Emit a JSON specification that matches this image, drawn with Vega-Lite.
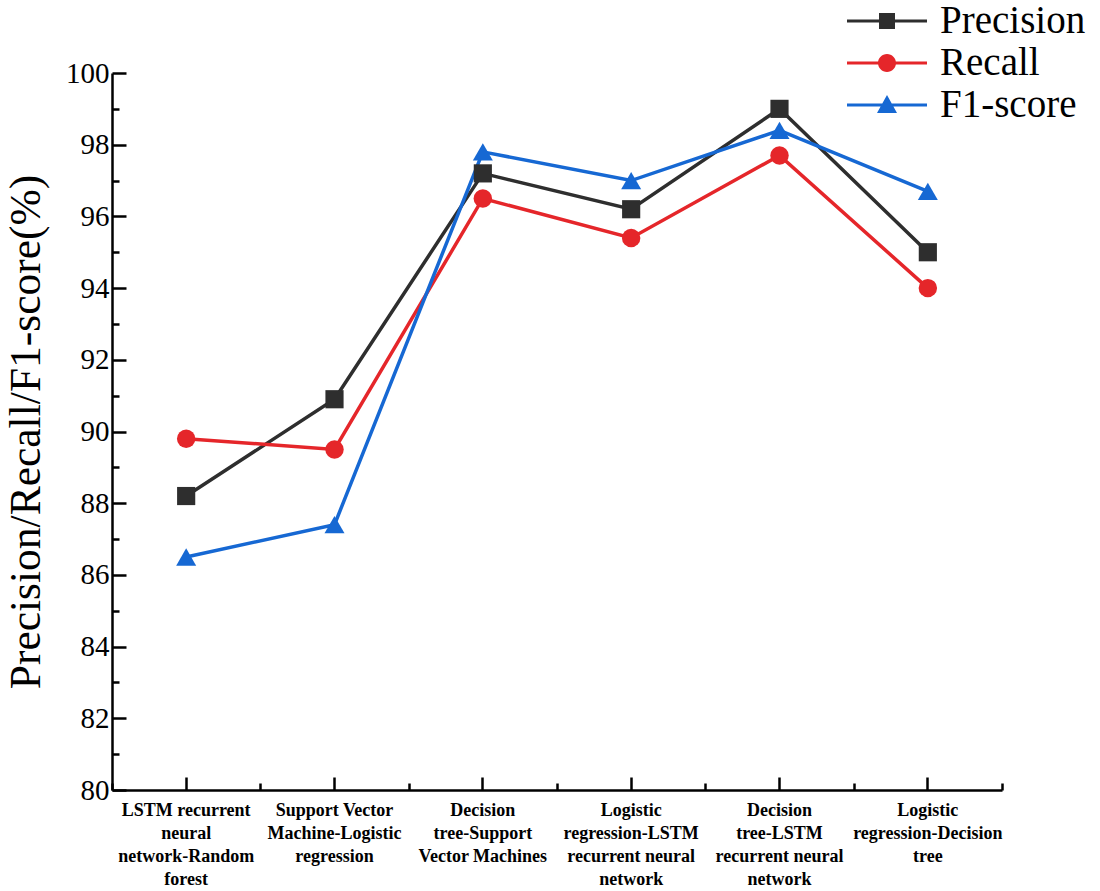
{
  "$schema": "https://vega.github.io/schema/vega-lite/v6.json",
  "width": 890,
  "height": 717,
  "autosize": "none",
  "padding": {"left": 112, "top": 73, "right": 98, "bottom": 101},
  "background": "white",
  "config": {
    "view": {"stroke": null},
    "axis": {"domainColor": "black", "domainWidth": 2.5, "tickColor": "black", "tickWidth": 2.5, "grid": false, "labelColor": "black", "titleColor": "black"}
  },
  "data": {
    "values": [
      {"model": "LSTM recurrent neural network-Random forest", "metric": "Precision", "value": 88.2},
      {"model": "Support Vector Machine-Logistic regression", "metric": "Precision", "value": 90.9},
      {"model": "Decision tree-Support Vector Machines", "metric": "Precision", "value": 97.2},
      {"model": "Logistic regression-LSTM recurrent neural network", "metric": "Precision", "value": 96.2},
      {"model": "Decision tree-LSTM recurrent neural network", "metric": "Precision", "value": 99.0},
      {"model": "Logistic regression-Decision tree", "metric": "Precision", "value": 95.0},
      {"model": "LSTM recurrent neural network-Random forest", "metric": "Recall", "value": 89.8},
      {"model": "Support Vector Machine-Logistic regression", "metric": "Recall", "value": 89.5},
      {"model": "Decision tree-Support Vector Machines", "metric": "Recall", "value": 96.5},
      {"model": "Logistic regression-LSTM recurrent neural network", "metric": "Recall", "value": 95.4},
      {"model": "Decision tree-LSTM recurrent neural network", "metric": "Recall", "value": 97.7},
      {"model": "Logistic regression-Decision tree", "metric": "Recall", "value": 94.0},
      {"model": "LSTM recurrent neural network-Random forest", "metric": "F1-score", "value": 86.5},
      {"model": "Support Vector Machine-Logistic regression", "metric": "F1-score", "value": 87.4},
      {"model": "Decision tree-Support Vector Machines", "metric": "F1-score", "value": 97.8},
      {"model": "Logistic regression-LSTM recurrent neural network", "metric": "F1-score", "value": 97.0},
      {"model": "Decision tree-LSTM recurrent neural network", "metric": "F1-score", "value": 98.4},
      {"model": "Logistic regression-Decision tree", "metric": "F1-score", "value": 96.7}
    ]
  },
  "resolve": {"axis": {"x": "independent", "y": "independent"}},
  "layer": [
    {
      "mark": {"type": "line", "strokeWidth": 3.5},
      "encoding": {
        "x": {
          "field": "model", "type": "nominal", "sort": null,
          "scale": {"type": "band", "paddingInner": 0, "paddingOuter": 0},
          "axis": {
            "orient": "bottom", "title": null, "labelAngle": 0, "tickSize": -13, "labelPadding": 24,
            "labelFont": "Liberation Serif", "labelFontWeight": "bold", "labelFontSize": 18, "labelLineHeight": 23,
            "labelBaseline": "top",
            "labelExpr": "{'LSTM recurrent neural network-Random forest': ['LSTM recurrent', 'neural', 'network-Random', 'forest'], 'Support Vector Machine-Logistic regression': ['Support Vector', 'Machine-Logistic', 'regression'], 'Decision tree-Support Vector Machines': ['Decision', 'tree-Support', 'Vector Machines'], 'Logistic regression-LSTM recurrent neural network': ['Logistic', 'regression-LSTM', 'recurrent neural', 'network'], 'Decision tree-LSTM recurrent neural network': ['Decision', 'tree-LSTM', 'recurrent neural', 'network'], 'Logistic regression-Decision tree': ['Logistic', 'regression-Decision', 'tree']}[datum.label]"
          }
        },
        "y": {
          "field": "value", "type": "quantitative",
          "scale": {"domain": [80, 100], "nice": false, "zero": false},
          "axis": {
            "orient": "left",
            "title": "Precision/Recall/F1-score(%)", "titleFont": "Liberation Serif", "titleFontSize": 43.5, "titleFontWeight": "normal", "titlePadding": 17,
            "values": [80, 82, 84, 86, 88, 90, 92, 94, 96, 98, 100],
            "tickSize": -14, "labelPadding": 17,
            "labelFont": "Liberation Serif", "labelFontSize": 29
          }
        },
        "color": {
          "field": "metric", "type": "nominal",
          "scale": {"domain": ["Precision", "Recall", "F1-score"], "range": ["#2e2e2e", "#e5262a", "#1668d3"]},
          "legend": {
            "title": null, "orient": "none", "legendX": 755, "legendY": -72, "padding": 0,
            "symbolSize": 1600, "rowPadding": 2, "labelOffset": 33,
            "labelFont": "Liberation Serif", "labelFontSize": 39, "labelColor": "black",
            "encode": {
              "symbols": {
                "update": {
                  "shape": {"signal": "datum.value === 'Precision' ? 'M-2,-0.08H2V0.08H-2Z M-0.4,-0.4H0.4V0.4H-0.4Z' : datum.value === 'Recall' ? 'M-2,-0.08H2V0.08H-2Z M-0.45,0A0.45,0.45 0 1,1 0.45,0A0.45,0.45 0 1,1 -0.45,0Z' : 'M-2,-0.08H2V0.08H-2Z M0,-0.5L0.5,0.4H-0.5Z'"},
                  "fill": {"signal": "scale('color', datum.value)"},
                  "fillOpacity": {"value": 1},
                  "strokeWidth": {"value": 0}
                }
              }
            }
          }
        }
      }
    },
    {
      "transform": [{"filter": "datum.metric === 'Precision'"}],
      "mark": {"type": "point", "filled": true, "opacity": 1, "size": 330, "shape": "square"},
      "encoding": {
        "x": {"field": "model", "type": "nominal", "sort": null, "axis": null},
        "y": {"field": "value", "type": "quantitative", "axis": null},
        "color": {"field": "metric", "type": "nominal", "legend": null}
      }
    },
    {
      "transform": [{"filter": "datum.metric === 'Recall'"}],
      "mark": {"type": "point", "filled": true, "opacity": 1, "size": 340, "shape": "circle"},
      "encoding": {
        "x": {"field": "model", "type": "nominal", "sort": null, "axis": null},
        "y": {"field": "value", "type": "quantitative", "axis": null},
        "color": {"field": "metric", "type": "nominal", "legend": null}
      }
    },
    {
      "transform": [{"filter": "datum.metric === 'F1-score'"}],
      "mark": {"type": "point", "filled": true, "opacity": 1, "size": 400, "shape": "triangle-up"},
      "encoding": {
        "x": {"field": "model", "type": "nominal", "sort": null, "axis": null},
        "y": {"field": "value", "type": "quantitative", "axis": null},
        "color": {"field": "metric", "type": "nominal", "legend": null}
      }
    },
    {
      "mark": {"type": "point", "opacity": 0},
      "encoding": {
        "x": {
          "field": "model", "type": "nominal", "sort": null,
          "axis": {"orient": "bottom", "title": null, "labels": false, "domain": false, "tickBand": "extent", "tickSize": -7}
        },
        "y": {
          "field": "value", "type": "quantitative",
          "axis": {"orient": "left", "title": null, "labels": false, "domain": false, "values": [81, 83, 85, 87, 89, 91, 93, 95, 97, 99], "tickSize": -7}
        }
      }
    }
  ]
}
